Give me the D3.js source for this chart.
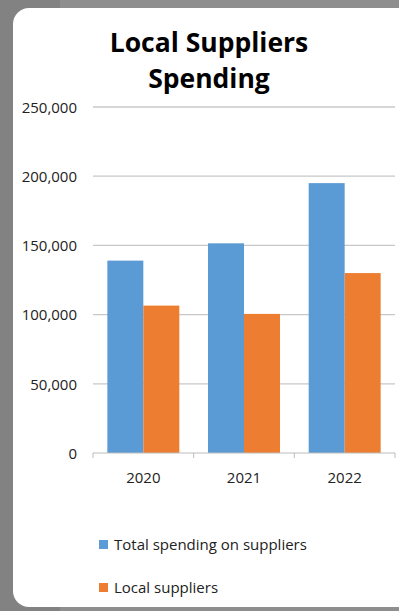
<!DOCTYPE html>
<html lang="en">
<head>
  <meta charset="UTF-8">
  <script src="https://cdn.jsdelivr.net/npm/d3@7"></script>
  <title>Local Suppliers Spending</title>
  <style>
    body { margin: 0; background: #8e8e8e; }
    svg { display: block; font-family: "Open Sans", "Noto Sans", sans-serif; }
    .grid line { stroke: #c8c8c8; stroke-width: 1.3; }
    .axis path, .axis line { stroke: #bdbdbd; }
    .lbl { font-size: 15px; fill: #222; }
  </style>
</head>
<body>
<div id="chart"></div>

<script>
  // data
  var years = ["2020", "2021", "2022"];
  var seriesNames = ["Total spending on suppliers", "Local suppliers"];
  var totalSpending = [139000, 151500, 195000];
  var localSuppliers = [106500, 100500, 130000];
  var yTicks = [0, 50000, 100000, 150000, 200000, 250000];
  var colors = ["#5b9bd5", "#ed7d31"];

  var W = 399, H = 611;
  var margin = {top: 107, right: 4, bottom: 158, left: 93};
  var width = W - margin.left - margin.right;
  var height = H - margin.top - margin.bottom;

  var svg = d3.select("#chart").append("svg")
    .attr("width", W)
    .attr("height", H);

  // grey photo-ish background
  svg.append("rect").attr("width", W).attr("height", H).attr("fill", "#8e8e8e");
  svg.append("rect").attr("x", 0).attr("y", 0).attr("width", 60).attr("height", H).attr("fill", "#7a7a7a").attr("opacity", 0.6);

  // white card
  svg.append("rect")
    .attr("x", 13).attr("y", 8)
    .attr("width", 400).attr("height", 599)
    .attr("rx", 16).attr("ry", 16)
    .attr("fill", "#ffffff");

  var table = years.map(function(y, i) {
    return {year: y, values: [totalSpending[i], localSuppliers[i]]};
  });

  var x0 = d3.scaleBand()
    .domain(years)
    .range([0, width])
    .paddingInner(0.285)
    .paddingOuter(0.1425);

  var x1 = d3.scaleBand()
    .domain(d3.range(seriesNames.length))
    .range([0, x0.bandwidth()]);

  var y = d3.scaleLinear()
    .domain([0, 250000])
    .range([height, 0]);

  var g = svg.append("g")
    .attr("transform", "translate(" + margin.left + "," + margin.top + ")");

  // gridlines
  g.append("g").attr("class", "grid")
    .selectAll("line")
    .data(yTicks.filter(function(d) { return d > 0; }))
    .enter().append("line")
    .attr("x1", 0).attr("x2", width)
    .attr("y1", function(d) { return y(d); })
    .attr("y2", function(d) { return y(d); });

  // y labels
  g.append("g")
    .selectAll("text")
    .data(yTicks)
    .enter().append("text")
    .attr("class", "lbl")
    .attr("x", -16)
    .attr("y", function(d) { return y(d); })
    .attr("dy", "0.38em")
    .style("text-anchor", "end")
    .text(function(d) { return d3.format(",")(d); });

  // bars
  g.selectAll(".grp")
    .data(table)
    .enter().append("g")
    .attr("class", "grp")
    .attr("transform", function(d) { return "translate(" + x0(d.year) + ",0)"; })
    .selectAll("rect")
    .data(function(d) { return d.values; })
    .enter().append("rect")
    .attr("x", function(d, i) { return x1(i); })
    .attr("y", function(d) { return y(d); })
    .attr("width", x1.bandwidth())
    .attr("height", function(d) { return height - y(d); })
    .attr("fill", function(d, i) { return colors[i]; });

  // x axis line with ticks at band edges
  var edges = d3.range(years.length + 1).map(function(i) { return i * width / years.length; });
  var ax = g.append("g").attr("class", "axis");
  ax.append("line")
    .attr("x1", 0).attr("x2", width)
    .attr("y1", height).attr("y2", height);
  ax.selectAll(".tk")
    .data(edges)
    .enter().append("line")
    .attr("class", "tk")
    .attr("x1", function(d) { return d; }).attr("x2", function(d) { return d; })
    .attr("y1", height).attr("y2", height + 5);

  g.append("g")
    .selectAll("text")
    .data(years)
    .enter().append("text")
    .attr("class", "lbl")
    .attr("x", function(d) { return x0(d) + x0.bandwidth() / 2; })
    .attr("y", height + 30)
    .style("text-anchor", "middle")
    .text(function(d) { return d; });

  // title
  svg.append("text")
    .attr("x", 209).attr("y", 52)
    .style("text-anchor", "middle")
    .style("font-size", "26.5px")
    .style("font-weight", "bold")
    .text("Local Suppliers");
  svg.append("text")
    .attr("x", 209).attr("y", 88)
    .style("text-anchor", "middle")
    .style("font-size", "26.5px")
    .style("font-weight", "bold")
    .text("Spending");

  // legend
  var leg = svg.append("g")
    .selectAll("g")
    .data(seriesNames)
    .enter().append("g")
    .attr("transform", function(d, i) { return "translate(99," + (540 + i * 43) + ")"; });
  leg.append("rect")
    .attr("width", 9).attr("height", 9)
    .attr("fill", function(d, i) { return colors[i]; });
  leg.append("text")
    .attr("class", "lbl")
    .attr("x", 15).attr("y", 10)
    .text(function(d) { return d; });
</script>
</body>
</html>
